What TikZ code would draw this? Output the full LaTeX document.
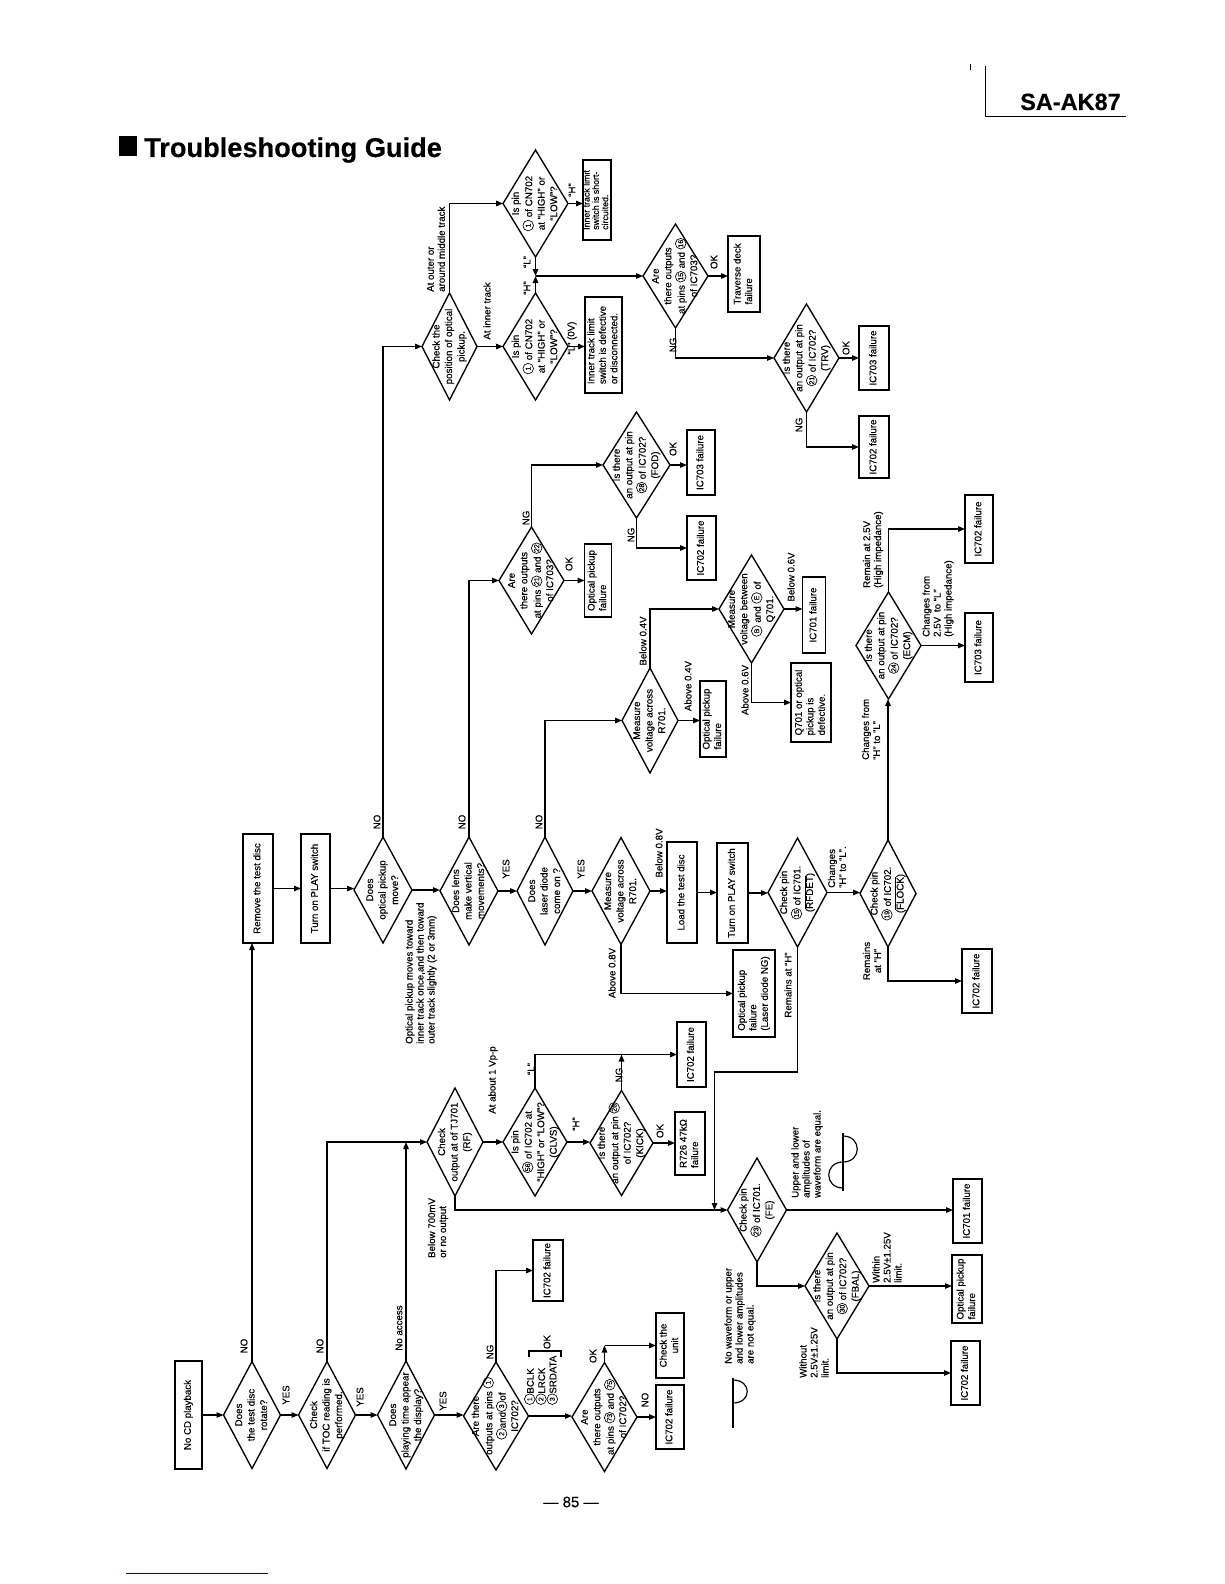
\documentclass[tikz,border=0pt]{standalone}
\usepackage{fontspec}
\setmainfont{Liberation Sans}[FakeBold=0.35]
\usetikzlibrary{shapes.geometric,arrows.meta}
\newcommand\cn[1]{\tikz[baseline={([yshift=-1.6pt]cnn.base)}]\node[circle,draw,line width=0.65pt,inner sep=0pt,minimum size=10.6pt,font=\fontsize{7}{7}\selectfont] (cnn) {#1};}
\newcommand\rt[1]{\makebox[0pt]{\smash{\raisebox{-.5\height}{\rotatebox{90}{\begin{tabular}{@{}c@{}}#1\end{tabular}}}}}}
\newcommand\rl[1]{\rotatebox{90}{\begin{tabular}{@{}l@{}}#1\end{tabular}}}
\newcommand\rc[1]{\rotatebox{90}{\begin{tabular}{@{}c@{}}#1\end{tabular}}}
\newcommand\ovl[1]{$\overline{\mbox{#1}}$}
\begin{document}
\begin{tikzpicture}[x=1pt,y=-1pt,
  dia/.style={draw,diamond,line width=1.35pt,inner sep=0pt,outer sep=0pt,font=\fontsize{9.8}{12.5}\selectfont},
  box/.style={draw,rectangle,line width=1.35pt,inner sep=0pt,outer sep=0pt,font=\fontsize{9.7}{11.5}\selectfont},
  lab/.style={rotate=90,inner sep=0pt,font=\fontsize{9.7}{11}\selectfont,align=left},
  arr/.style={line width=1.15pt,-{Triangle[length=7pt,width=5.5pt]}},
  ln/.style={line width=1.15pt}]
\fill[white] (0,0) rectangle (1224,1584);
\useasboundingbox (0,0) rectangle (1224,1584);

% header / footer
\fill[black] (119,136) rectangle (137,156);
\node[anchor=base west,inner sep=0pt,font=\fontsize{27.2}{30}\selectfont\bfseries] (title) at (144,157) {Troubleshooting Guide};
\node[anchor=base west,inner sep=0pt,font=\fontsize{23.5}{26}\selectfont\bfseries] (model) at (1020,110) {SA-AK87};
\draw[line width=0.8pt] (985,66) -- (985,116) -- (1126,116);
\draw[line width=0.8pt] (970,64) -- (970,70);
\node[inner sep=0pt,font=\fontsize{15}{16}\selectfont] (page) at (571,1502) {— 85 —};
\draw[line width=1pt,blue!60!black] (126,1573) -- (268,1573);

% main column
\node[box,minimum width=27pt,minimum height=108pt] (b0) at (188.5,1415) {\rl{No CD playback}};
\node[dia,minimum width=57pt,minimum height=107pt] (d1) at (252,1415) {\rt{Does\\the test disc\\rotate?}};
\node[dia,minimum width=57pt,minimum height=107pt] (d2) at (327,1415) {\rt{Check\\if TOC reading is\\performed.}};
\node[dia,minimum width=57pt,minimum height=108pt] (d3) at (406,1415) {\rt{Does\\playing time appear\\the display?}};
\node[dia,minimum width=65pt,minimum height=108pt] (d4) at (496,1416) {\rt{Are there\\outputs at pins \cn{1}\\\cn{2}and\cn{3}of\\IC702?}};
\node[box,minimum width=30pt,minimum height=61pt] (bA) at (548,1270.5) {\rl{IC702 failure}};
\node[dia,minimum width=65pt,minimum height=109pt] (d5) at (604.5,1417) {\rt{Are\\there outputs\\at pins \cn{73} and \cn{75}\\of IC702?}};
\node[box,minimum width=28pt,minimum height=64pt] (bB) at (670,1417) {\rl{IC702 failure}};
\node[box,minimum width=28pt,minimum height=65pt] (bC) at (670,1345.5) {\rc{Check the\\unit}};

% second row
\node[box,minimum width=30pt,minimum height=109pt] (bRem) at (258,888.5) {\rl{Remove the test disc}};
\node[box,minimum width=29pt,minimum height=109pt] (bPl1) at (315.5,888.5) {\rl{Turn on PLAY switch}};
\node[dia,minimum width=58pt,minimum height=106pt] (dMove) at (383,890) {\rt{Does\\optical pickup\\move?}};
\node[dia,minimum width=58pt,minimum height=108pt] (dLens) at (469,891) {\rt{Does lens\\make vertical\\movements?}};
\node[dia,minimum width=56pt,minimum height=108pt] (dLas) at (545,891) {\rt{Does\\laser diode\\come on ?}};
\node[dia,minimum width=58pt,minimum height=107pt] (dR1) at (621,891) {\rt{Measure\\voltage across\\R701.}};
\node[box,minimum width=30pt,minimum height=101pt] (bLoad) at (682,892.5) {\rl{Load the test disc}};
\node[box,minimum width=31pt,minimum height=100pt] (bPl2) at (732.5,893) {\rl{Turn on PLAY switch}};
\node[dia,minimum width=59pt,minimum height=109pt] (dRF) at (797.5,892.5) {\rt{Check pin\\\cn{15} of IC701.\\(\ovl{RFDET})}};
\node[dia,minimum width=56pt,minimum height=107pt] (dFL) at (888,893.5) {\rt{Check pin\\\cn{19} of IC702.\\(\ovl{FLOCK})}};
\node[box,minimum width=30pt,minimum height=64pt] (bC2) at (977,981) {\rl{IC702 failure}};
\node[box,minimum width=42pt,minimum height=87pt] (bLD) at (754,993.5) {\rl{Optical pickup\\failure\\(Laser diode NG)}};

% third row
\node[dia,minimum width=56pt,minimum height=108pt] (dTJ) at (455,1142) {\rt{Check\\output at of TJ701\\(RF)}};
\node[dia,minimum width=64pt,minimum height=108pt] (dCL) at (535,1142) {\rt{Is pin\\\cn{56} of IC702 at\\“HIGH” or “LOW”?\\(CLVS)}};
\node[box,minimum width=29pt,minimum height=65pt] (bD) at (691.5,1054.5) {\rl{IC702 failure}};
\node[dia,minimum width=63pt,minimum height=105pt] (dKI) at (621.5,1143) {\rt{Is there\\an output at pin \cn{26}\\of IC702?\\(KICK)}};
\node[box,minimum width=30pt,minimum height=63pt] (bR726) at (690,1143.5) {\rl{R726 47kΩ\\failure}};
\node[dia,minimum width=59pt,minimum height=104pt] (dFE) at (757,1210) {\rt{Check pin\\\cn{23} of IC701.\\(FE)}};
\node[box,minimum width=29pt,minimum height=64pt] (bE) at (967.5,1211) {\rl{IC701 failure}};
\node[dia,minimum width=64pt,minimum height=106pt] (dFB) at (837,1286) {\rt{Is there\\an output at pin\\\cn{30} of IC702?\\(FBAL)}};
\node[box,minimum width=30pt,minimum height=68pt] (bF) at (967,1289) {\rl{Optical pickup\\failure}};
\node[box,minimum width=29pt,minimum height=64pt] (bG) at (965.5,1373) {\rl{IC702 failure}};

% upper area
\node[dia,minimum width=55pt,minimum height=107pt] (dPos) at (449.5,346.5) {\rt{Check the\\position of optical\\pickup.}};
\node[dia,minimum width=65pt,minimum height=107pt] (dCN1) at (535.5,203.5) {\rt{Is pin\\\cn{1} of CN702\\at “HIGH” or\\“LOW”?}};
\node[box,minimum width=28pt,minimum height=80pt,font=\fontsize{8.8}{9.3}\selectfont] (bSh) at (597,200) {\rl{Inner track limit\\switch is short-\\circuited.}};
\node[dia,minimum width=65pt,minimum height=107pt] (dCN2) at (535.5,346.5) {\rt{Is pin\\\cn{1} of CN702\\at “HIGH” or\\“LOW”?}};
\node[box,minimum width=37pt,minimum height=96pt] (bDef) at (603.5,345) {\rl{Inner track limit\\switch is defective\\or disconnected.}};
\node[dia,minimum width=65pt,minimum height=104pt] (d1516) at (675.5,276) {\rt{Are\\there outputs\\at pins \cn{15} and \cn{16}\\of IC703?}};
\node[box,minimum width=32pt,minimum height=76pt] (bTr) at (744,274) {\rl{Traverse deck\\failure}};
\node[dia,minimum width=65pt,minimum height=108pt] (dTRV) at (806.5,358) {\rt{Is there\\an output at pin\\\cn{21} of IC702?\\(TRV)}};
\node[box,minimum width=30pt,minimum height=64pt] (bH) at (874,358) {\rl{IC703 failure}};
\node[box,minimum width=30pt,minimum height=62pt] (bI) at (874,447) {\rl{IC702 failure}};

% middle area
\node[dia,minimum width=65pt,minimum height=107pt] (d2122) at (531.5,580.5) {\rt{Are\\there outputs\\at pins \cn{21} and \cn{22}\\of IC703?}};
\node[box,minimum width=27pt,minimum height=73pt] (bJ) at (598,580.5) {\rl{Optical pickup\\failure}};
\node[dia,minimum width=67pt,minimum height=106pt] (dFOD) at (636.5,465) {\rt{Is there\\an output at pin\\\cn{28} of IC702?\\(FOD)}};
\node[box,minimum width=28pt,minimum height=65pt] (bK) at (701,462.5) {\rl{IC703 failure}};
\node[box,minimum width=29pt,minimum height=64pt] (bL) at (701.5,548) {\rl{IC702 failure}};
\node[dia,minimum width=56pt,minimum height=105pt] (dR2) at (650,720.5) {\rt{Measure\\voltage across\\R701.}};
\node[box,minimum width=26pt,minimum height=76pt] (bM) at (713,719) {\rl{Optical pickup\\failure}};
\node[dia,minimum width=65pt,minimum height=108pt] (dQ) at (751.5,609) {\rt{Measure\\voltage between\\\cn{B} and \cn{E} of\\Q701.}};
\node[box,minimum width=23pt,minimum height=76pt] (bN) at (814,615) {\rl{IC701 failure}};
\node[box,minimum width=40pt,minimum height=79pt] (bO) at (811,702.5) {\rl{Q701 or optical\\pickup is\\defective.}};
\node[dia,minimum width=65pt,minimum height=107pt] (dECM) at (888.5,645.5) {\rt{Is there\\an output at pin\\\cn{24} of IC702?\\(ECM)}};
\node[box,minimum width=28pt,minimum height=68pt] (bP) at (979,529) {\rl{IC702 failure}};
\node[box,minimum width=28pt,minimum height=69pt] (bQ) at (979,647.5) {\rl{IC703 failure}};

% connectors
\draw[arr] (b0.east) -- (d1.west);
\draw[arr] (d1.east) -- (d2.west);
\draw[arr] (d2.east) -- (d3.west);
\draw[arr] (d3.east) -- (d3.east -| d4.west);
\draw[arr] (d4.east) -- (d4.east -| d5.west);
\draw[arr] (d5.east) -- (d5.east -| bB.west);
\draw[arr] (d5.north) -- (d5.north |- bC.west);
\draw[arr] (d5.north |- bC.west) -- (bC.west);
\draw[arr] (d4.north) |- (bA.west);
\draw[arr] (d1.north) -- (d1.north |- bRem.south);
\draw[arr] (bRem.east) -- (bRem.east -| bPl1.west);
\draw[arr] (bPl1.east) -- (bPl1.east -| dMove.west);
\draw[arr] (dMove.east) -- (dMove.east -| dLens.west);
\draw[arr] (dMove.north) |- (dPos.west);
\draw[arr] (dLens.east) -- (dLens.east -| dLas.west);
\draw[arr] (dLens.north) |- (d2122.west);
\draw[arr] (dLas.east) -- (dLas.east -| dR1.west);
\draw[arr] (dLas.north) |- (dR2.west);
\draw[arr] (dR1.east) -- (dR1.east -| bLoad.west);
\draw[arr] (dR1.south) |- (bLD.west);
\draw[arr] (bLoad.east) -- (bLoad.east -| bPl2.west);
\draw[arr] (bPl2.east) -- (bPl2.east -| dRF.west);
\draw[arr] (dRF.east) -- (dRF.east -| dFL.west);
\coordinate (feJ) at ([xshift=-13pt]dFE.west);
\draw[arr] (dRF.south) -- ++(0,125) -| (feJ);
\draw[arr] (d2.north) |- (dTJ.west);
\draw[arr] (d3.north) -- (d3.north |- dTJ.west);
\draw[arr] (dTJ.south) |- (dFE.west);
\draw[arr] (dTJ.east) -- (dTJ.east -| dCL.west);
\draw[arr] (dCL.east) -- (dCL.east -| dKI.west);
\draw[arr] (dCL.north) |- (bD.west);
\draw[arr] (dKI.north) -- (dKI.north |- bD.west);
\draw[arr] (dKI.east) -- (dKI.east -| bR726.west);
\draw[arr] (dFE.east) -- (dFE.east -| bE.west);
\draw[arr] (dFE.south) |- (dFB.west);
\draw[arr] (dFB.east) -- (dFB.east -| bF.west);
\draw[arr] (dFB.south) |- (bG.west);
\draw[arr] (dFL.south) |- (bC2.west);
\draw[arr] (dFL.north) -- (dFL.north |- dECM.south);
\draw[arr] (dECM.north) |- (bP.west);
\draw[arr] (dECM.east) -- (dECM.east -| bQ.west);
\draw[arr] (dR2.north) |- (dQ.west);
\draw[arr] (dR2.east) -- (dR2.east -| bM.west);
\draw[arr] (dQ.east) -- (dQ.east -| bN.west);
\draw[arr] (dQ.south) |- (bO.west);
\draw[arr] (d2122.east) -- (d2122.east -| bJ.west);
\draw[arr] (d2122.north) |- (dFOD.west);
\draw[arr] (dFOD.east) -- (dFOD.east -| bK.west);
\draw[arr] (dFOD.south) |- (bL.west);
\draw[arr] (dPos.north) |- (dCN1.west);
\draw[arr] (dPos.east) -- (dPos.east -| dCN2.west);
\draw[arr] (dCN1.east) -- (dCN1.east -| bSh.west);
\draw[arr] (dCN2.east) -- (dCN2.east -| bDef.west);
\coordinate (J) at (dCN1.south |- d1516.west);
\draw[arr] (dCN1.south) -- (J);
\draw[arr] (dCN2.north) -- (J);
\draw[arr] (J) -- (d1516.west);
\draw[arr] (d1516.east) -- (d1516.east -| bTr.west);
\draw[arr] (d1516.south) |- (dTRV.west);
\draw[arr] (dTRV.east) -- (dTRV.east -| bH.west);
\draw[arr] (dTRV.south) |- (bI.west);

% labels
\node[lab] (l1) at (244,1346) {NO};
\node[lab] (l2) at (286,1395) {YES};
\node[lab] (l3) at (320,1346) {NO};
\node[lab] (l4) at (360,1397) {YES};
\node[lab] (l5) at (399,1328) {No access};
\node[lab] (l6) at (443,1401) {YES};
\node[lab] (l7) at (490,1352) {NG};
\node[lab,anchor=west,font=\fontsize{9.7}{11.3}\selectfont] (l8) at (541,1405) {\cn{1}BCLK\\\cn{2}LRCK\\\cn{3}SRDATA};
\draw[ln] (529,1357) -- (529,1351) -- (561,1351) -- (561,1357);
\node[lab] (l9) at (547,1342) {OK};
\node[lab] (l10) at (593,1356) {OK};
\node[lab] (l11) at (645,1400) {NO};
\node[lab] (l12) at (377,822) {NO};
\node[lab,anchor=west] (l13) at (421,1044) {Optical pickup moves toward\\inner track once,and then toward\\outer track slightly (2 or 3mm)};
\node[lab] (l14) at (462,822) {NO};
\node[lab] (l15) at (506,869) {YES};
\node[lab] (l16) at (539,822) {NO};
\node[lab] (l17) at (581,869) {YES};
\node[lab] (l18) at (659,853) {Below 0.8V};
\node[lab] (l19) at (612,973) {Above 0.8V};
\node[lab] (l20) at (788,985) {Remains at “H”};
\node[lab,anchor=west] (l21) at (837,888) {Changes\\“H” to “L”.};
\node[lab,align=center] (l22) at (872,961) {Remains\\at “H”};
\node[lab,anchor=west] (l23) at (871,760) {Changes from\\“H” to “L”};
\node[lab,anchor=west] (l24) at (873,588) {Remain at 2.5V\\(High impedance)};
\node[lab,anchor=west] (l25) at (938,637) {Changes from\\2.5V\enspace to “L”\\(High impedance)};
\node[lab] (l26) at (791,577) {Below 0.6V};
\node[lab] (l27) at (745,690) {Above 0.6V};
\node[lab] (l28) at (643,641) {Below 0.4V};
\node[lab] (l29) at (688,686) {Above 0.4V};
\node[lab] (l30) at (569,564) {OK};
\node[lab] (l31) at (526,518) {NG};
\node[lab] (l32) at (631,535) {NG};
\node[lab] (l33) at (673,449) {OK};
\node[lab,anchor=west] (l34) at (436,292) {At outer or\\around middle track};
\node[lab] (l35) at (487,311) {At inner track};
\node[lab] (l36) at (572,190) {“H”};
\node[lab] (l37) at (527,262) {“L”};
\node[lab] (l38) at (527,288) {“H”};
\node[lab] (l39) at (572,338) {“L” (0V)};
\node[lab] (l40) at (714,262) {OK};
\node[lab] (l41) at (673,345) {NG};
\node[lab] (l42) at (846,348) {OK};
\node[lab] (l43) at (799,425) {NG};
\node[lab] (l44) at (493,1080) {At about 1 Vp-p};
\node[lab] (l45) at (531,1069) {“L”};
\node[lab] (l46) at (576,1124) {“H”};
\node[lab] (l47) at (619,1075) {NG};
\node[lab] (l48) at (660,1131) {OK};
\node[lab,anchor=west] (l49) at (438,1258) {Below 700mV\\or no output};
\node[lab,anchor=west] (l50) at (807,1198) {Upper and lower\\amplitudes of\\waveform are equal.};
\node[lab,anchor=west] (l51) at (740,1364) {No waveform or upper\\and lower amplitudes\\are not equal.};
\node[lab,anchor=west] (l52) at (887,1283) {Within\\2.5V±1.25V\\limit.};
\node[lab,anchor=west] (l53) at (814,1378) {Without\\2.5V±1.25V\\limit.};

% waveform symbols
\draw[ln] (843,1133) -- (843,1191);
\draw[ln] (843,1188) .. controls (824,1188) and (824,1162) .. (843,1162) .. controls (862,1162) and (862,1136) .. (843,1136);
\draw[ln] (733,1378) -- (733,1428);
\draw[ln] (733,1380) .. controls (752,1380) and (752,1403) .. (733,1403);
\end{tikzpicture}
\end{document}
